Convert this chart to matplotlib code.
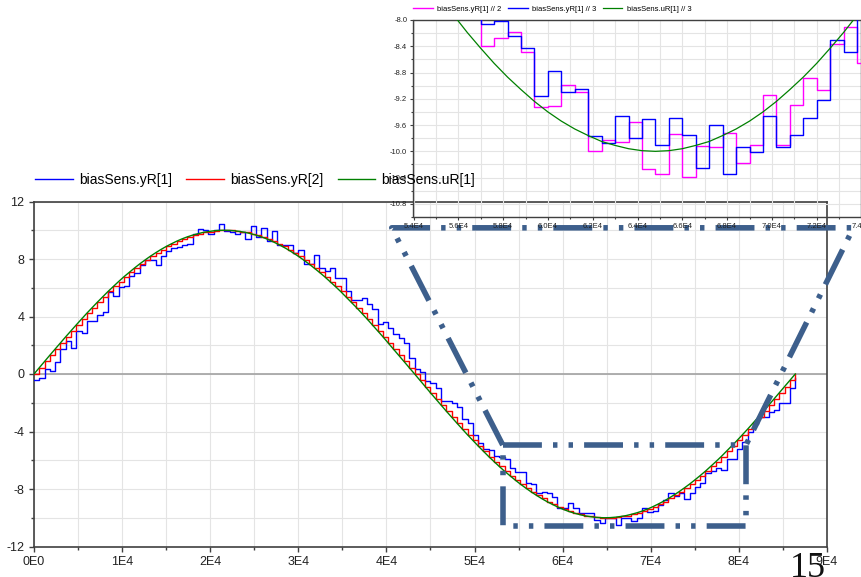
import matplotlib.pyplot as plt
import numpy as np
from matplotlib.ticker import MultipleLocator, FuncFormatter

plt.rcParams['font.family'] = ['Liberation Sans', 'DejaVu Sans']
plt.rcParams['axes.unicode_minus'] = False

# sampled every 600 s over one day
sample_period = 600

# biasSens.uR[1] (input), read at each sample instant
uR = [0.0, 0.44, 0.87, 1.31, 1.74, 2.16, 2.59, 3.01, 3.42, 3.83,
      4.23, 4.62, 5.0, 5.37, 5.74, 6.09, 6.43, 6.76, 7.07, 7.37,
      7.66, 7.93, 8.19, 8.43, 8.66, 8.87, 9.06, 9.24, 9.40, 9.54,
      9.66, 9.76, 9.85, 9.91, 9.96, 9.99, 10.0, 9.99, 9.96, 9.91,
      9.85, 9.76, 9.66, 9.54, 9.40, 9.24, 9.06, 8.87, 8.66, 8.43,
      8.19, 7.93, 7.66, 7.37, 7.07, 6.76, 6.43, 6.09, 5.74, 5.37,
      5.0, 4.62, 4.23, 3.83, 3.42, 3.01, 2.59, 2.16, 1.74, 1.31,
      0.87, 0.44, 0.0, -0.44, -0.87, -1.31, -1.74, -2.16, -2.59, -3.01,
      -3.42, -3.83, -4.23, -4.62, -5.0, -5.37, -5.74, -6.09, -6.43, -6.76,
      -7.07, -7.37, -7.66, -7.93, -8.19, -8.43, -8.66, -8.87, -9.06, -9.24,
      -9.40, -9.54, -9.66, -9.76, -9.85, -9.91, -9.96, -9.99, -10.0, -9.99,
      -9.96, -9.91, -9.85, -9.76, -9.66, -9.54, -9.40, -9.24, -9.06, -8.87,
      -8.66, -8.43, -8.19, -7.93, -7.66, -7.37, -7.07, -6.76, -6.43, -6.09,
      -5.74, -5.37, -5.0, -4.62, -4.23, -3.83, -3.42, -3.01, -2.59, -2.16,
      -1.74, -1.31, -0.87, -0.44, 0.0]

# biasSens.yR[1] (noisy, lagging)
yR1 = [-0.42, -0.26, 0.35, 0.21, 0.86, 1.74, 2.32, 1.81, 3.0, 2.83,
       3.71, 3.71, 4.13, 4.3, 5.68, 5.45, 6.08, 6.15, 6.8, 7.05,
       7.55, 7.95, 7.95, 7.6, 8.2, 8.57, 8.8, 8.82, 8.98, 9.03,
       9.73, 10.07, 10.0, 9.73, 10.03, 10.42, 9.96, 9.91, 9.73, 9.9,
       9.4, 10.3, 9.56, 10.14, 9.26, 9.98, 8.98, 8.98, 8.98, 8.4,
       8.65, 7.64, 7.64, 8.29, 7.36, 7.17, 7.4, 6.66, 6.66, 5.78,
       5.15, 5.15, 5.27, 4.85, 4.53, 3.46, 3.6, 3.23, 2.76, 2.48,
       2.14, 1.09, 0.35, 0.16, -0.49, -0.65, -1.0, -1.86, -1.86, -2.0,
       -2.27, -3.16, -3.44, -4.25, -4.78, -5.25, -5.3, -5.71, -5.76, -5.9,
       -6.57, -6.8, -6.8, -7.61, -7.66, -8.26, -8.2, -8.26, -8.59, -9.29,
       -9.29, -9.0, -9.29, -9.7, -9.7, -9.65, -10.17, -10.35, -10.0, -10.0,
       -10.5, -10.05, -10.05, -10.2, -10.0, -9.29, -9.6, -9.5, -9.12, -8.77,
       -8.26, -8.5, -8.3, -8.73, -8.26, -7.89, -7.57, -6.87, -6.75, -6.57,
       -6.69, -5.94, -5.94, -5.25, -4.71, -4.02, -3.5, -3.02, -3.02, -2.62,
       -2.5, -2.04, -2.04, -1.0, -0.3]

# biasSens.yR[2] holds the sampled input
yR2 = list(uR)

# zoomed window, runs 2 and 3, samples from t = 56400 s
inset_start = 56400
yR1_run2 = [-7.8, -8.40, -8.28, -8.18, -8.48, -9.33, -9.31, -8.99, -9.10, -10.0,
            -9.82, -9.86, -9.55, -10.27, -10.35, -9.73, -10.39, -9.92, -9.93, -9.72,
            -10.18, -9.91, -9.14, -9.91, -9.30, -8.89, -9.07, -8.36, -8.11, -8.66, -8.5]
yR1_run3 = [-7.7, -8.06, -8.01, -8.24, -8.42, -9.15, -8.78, -9.09, -9.05, -9.76,
            -9.88, -9.46, -9.79, -9.50, -9.91, -9.49, -9.75, -10.25, -9.6, -10.35,
            -9.93, -10.01, -9.46, -9.94, -9.75, -9.49, -9.22, -8.31, -8.49, -7.9, -7.6]

t = np.arange(len(uR)) * sample_period
t_in = inset_start + np.arange(len(yR1_run2)) * sample_period
k0 = inset_start // sample_period

spine_c = '#404040'
grid_c = '#e4e4e4'

fig = plt.figure(figsize=(8.62, 5.77), dpi=100)

# main axes
ax = fig.add_axes([34 / 862, 30.5 / 577, 793 / 862, 345 / 577])
l1, = ax.step(t, yR1, where='post', color='#0000ff', lw=1.0, zorder=3)
l2, = ax.step(t, yR2, where='post', color='#ff0000', lw=1.0, zorder=4)
l3, = ax.plot(t, uR, color='#008000', lw=1.0, zorder=5)
ax.axhline(0, color='#a8a8a8', lw=1.3, zorder=2)

ax.set_xlim(0, 90000)
ax.set_ylim(-12, 12)
ax.xaxis.set_major_locator(MultipleLocator(10000))
ax.xaxis.set_minor_locator(MultipleLocator(5000))
ax.yaxis.set_major_locator(MultipleLocator(4))
ax.yaxis.set_minor_locator(MultipleLocator(2))
ax.xaxis.set_major_formatter(FuncFormatter(lambda v, p: '0E0' if v == 0 else f'{v / 1e4:.0f}E4'))
ax.grid(which='both', color=grid_c, lw=0.8, zorder=0)
ax.set_axisbelow(True)
ax.tick_params(which='both', direction='out', color=spine_c, width=1, labelsize=9, labelcolor='#222222')
ax.tick_params(which='major', length=3.5)
ax.tick_params(which='minor', length=2.5)
for s in ax.spines.values():
    s.set_color(spine_c)
    s.set_linewidth(1.2)

# dash-dot zoom marker
zoom_c = '#3d5f8c'
zoom_ls = (0, (7, 2, 0.8, 2, 0.8, 2))
box_x = [5.32e4, 8.08e4, 8.08e4, 5.32e4, 5.32e4]
box_y = [-4.94, -4.94, -10.58, -10.58, -4.94]
conn_x = [5.32e4, 4.06e4, 9.30e4, 8.08e4]
conn_y = [-4.94, 10.17, 10.17, -4.94]
ax.plot(box_x, box_y, color=zoom_c, lw=4, ls=zoom_ls, clip_on=False, zorder=6)
ax.plot(conn_x, conn_y, color=zoom_c, lw=4, ls=zoom_ls, clip_on=False, zorder=6)

fig.legend([l1, l2, l3], ['biasSens.yR[1]', 'biasSens.yR[2]', 'biasSens.uR[1]'],
           loc='center left', bbox_to_anchor=(35 / 862, 1 - 180 / 577), ncol=3,
           frameon=False, fontsize=10, handlelength=2.7, handletextpad=0.45,
           columnspacing=1.05, borderpad=0, borderaxespad=0)

# inset axes
ai = fig.add_axes([413.5 / 862, 360 / 577, 448 / 862, 197 / 577])
ai.patch.set_alpha(0)
m1, = ai.step(t_in, yR1_run2, where='post', color='#ff00ff', lw=1.0, zorder=3)
m2, = ai.step(t_in, yR1_run3, where='post', color='#0000ff', lw=1.0, zorder=4)
m3, = ai.plot(t[k0 - 6:k0 + 32], uR[k0 - 6:k0 + 32], color='#008000', lw=0.9, zorder=5)
ai.set_xlim(54000, 74000)
ai.set_ylim(-11.0, -8.0)
ai.xaxis.set_major_locator(MultipleLocator(2000))
ai.xaxis.set_minor_locator(MultipleLocator(1000))
ai.yaxis.set_major_locator(MultipleLocator(0.4))
ai.yaxis.set_minor_locator(MultipleLocator(0.2))
ai.xaxis.set_major_formatter(FuncFormatter(lambda v, p: f'{v / 1e4:.1f}E4'))
ai.yaxis.set_major_formatter(FuncFormatter(lambda v, p: f'{v:.1f}'))
ai.grid(which='both', color=grid_c, lw=0.8, zorder=0)
ai.set_axisbelow(True)
ai.tick_params(which='both', direction='out', color=spine_c, width=0.8, labelsize=5.5,
               labelcolor='#222222', pad=2)
ai.tick_params(which='major', length=2.5)
ai.tick_params(which='minor', length=1.5)
for s in ai.spines.values():
    s.set_color(spine_c)
    s.set_linewidth(1.0)
ai.legend([m1, m2, m3], ['biasSens.yR[1] // 2', 'biasSens.yR[1] // 3', 'biasSens.uR[1] // 3'],
          loc='center left', bbox_to_anchor=(413 / 862, 1 - 9.3 / 577),
          bbox_transform=fig.transFigure, ncol=3, frameon=False, fontsize=5.5,
          handlelength=2.6, handletextpad=0.6, columnspacing=0.8, borderpad=0, borderaxespad=0)

fig.text(808 / 862, 1 - 552 / 577, '15', family='Liberation Serif', fontsize=26,
         ha='center', va='top', color='#111111')

fig.savefig('out.png', dpi=100)
